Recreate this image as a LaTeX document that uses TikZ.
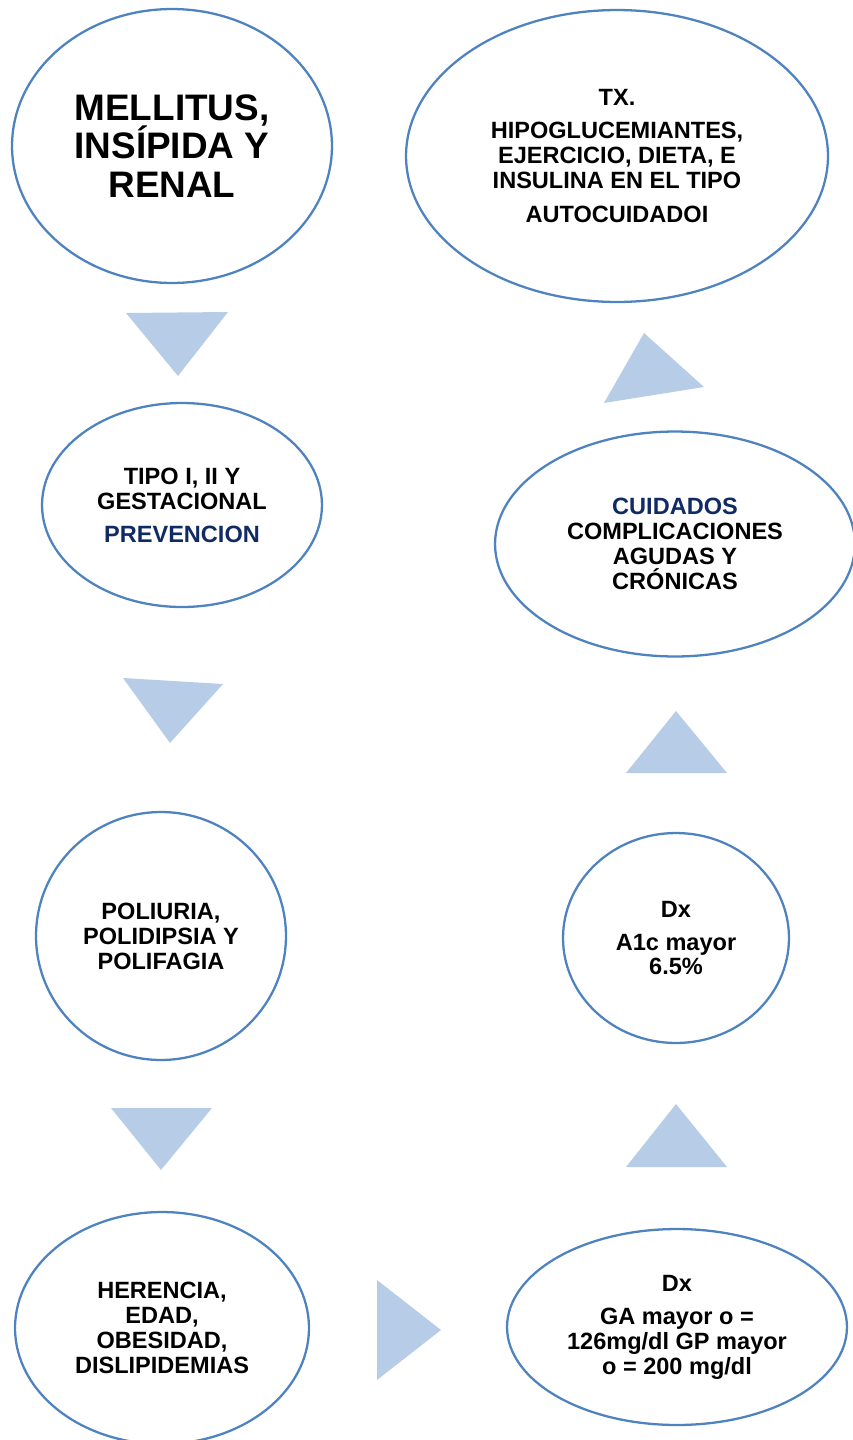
\documentclass[tikz,border=0pt]{standalone}
\usepackage{fontspec}
\setmainfont{Liberation Sans}
\usetikzlibrary{shapes.geometric}
\definecolor{bubbleblue}{RGB}{79,131,192}
\definecolor{pointerblue}{RGB}{183,204,230}
\definecolor{navytext}{RGB}{16,42,100}
\tikzset{
	bubble/.style={ellipse, draw=bubbleblue, line width=1.3pt, inner sep=0pt, align=center, font=\bfseries\fontsize{13.4}{14.2}\selectfont},
	pointer/.style={fill=pointerblue}
}

\begin{document}
\begin{tikzpicture}[x=0.02cm, y=-0.02cm]
	\useasboundingbox (0, 0) rectangle (852, 1440);
	\node[bubble, minimum width=6.4cm, minimum height=5.48cm, font=\bfseries\fontsize{21}{21.9}\selectfont] (mellitus) at (172, 146) {MELLITUS,\\INSÍPIDA Y\\RENAL};
	\node[bubble, minimum width=8.44cm, minimum height=5.84cm] (tx) at (617, 156) {TX.\\[4.4pt]HIPOGLUCEMIANTES,\\EJERCICIO, DIETA, E\\INSULINA EN EL TIPO\\[5pt]AUTOCUIDADOI};
	\node[bubble, minimum width=5.6cm, minimum height=4.08cm] (tipo) at (182, 505) {TIPO I, II Y\\GESTACIONAL\\[4.6pt]\textcolor{navytext}{PREVENCION}};
	\node[bubble, minimum width=7.2cm, minimum height=4.5cm] (cuidados) at (675, 544) {\textcolor{navytext}{CUIDADOS}\\COMPLICACIONES\\AGUDAS Y\\CRÓNICAS};
	\node[bubble, minimum width=5cm, minimum height=4.96cm] (poliuria) at (161, 936) {POLIURIA,\\POLIDIPSIA Y\\POLIFAGIA};
	\node[bubble, minimum width=4.52cm, minimum height=4.2cm] (dxa1c) at (676, 938) {Dx\\[4.6pt]A1c mayor\\6.5\%};
	\node[bubble, minimum width=5.88cm, minimum height=4.64cm] (herencia) at (162, 1328) {HERENCIA,\\EDAD,\\OBESIDAD,\\DISLIPIDEMIAS};
	\node[bubble, minimum width=6.8cm, minimum height=3.92cm] (dxga) at (677, 1327) {Dx\\[4.6pt]GA mayor o =\\126mg/dl GP mayor\\o = 200 mg/dl};
	% pointers
	\fill[pointer] (126, 313) -- (228, 312) -- (178, 376) --cycle;
	\fill[pointer] (123, 678) -- (223, 684) -- (170, 743) --cycle;
	\fill[pointer] (111, 1108) -- (212, 1108) -- (161, 1170) --cycle;
	\fill[pointer] (377, 1280) -- (441, 1330) -- (377, 1380) --cycle;
	\fill[pointer] (626, 1167) -- (727, 1167) -- (676, 1104) --cycle;
	\fill[pointer] (626, 773) -- (727, 773) -- (676, 711) --cycle;
	\fill[pointer] (604, 403) -- (704, 387) -- (644, 333) --cycle;
\end{tikzpicture}
\end{document}
